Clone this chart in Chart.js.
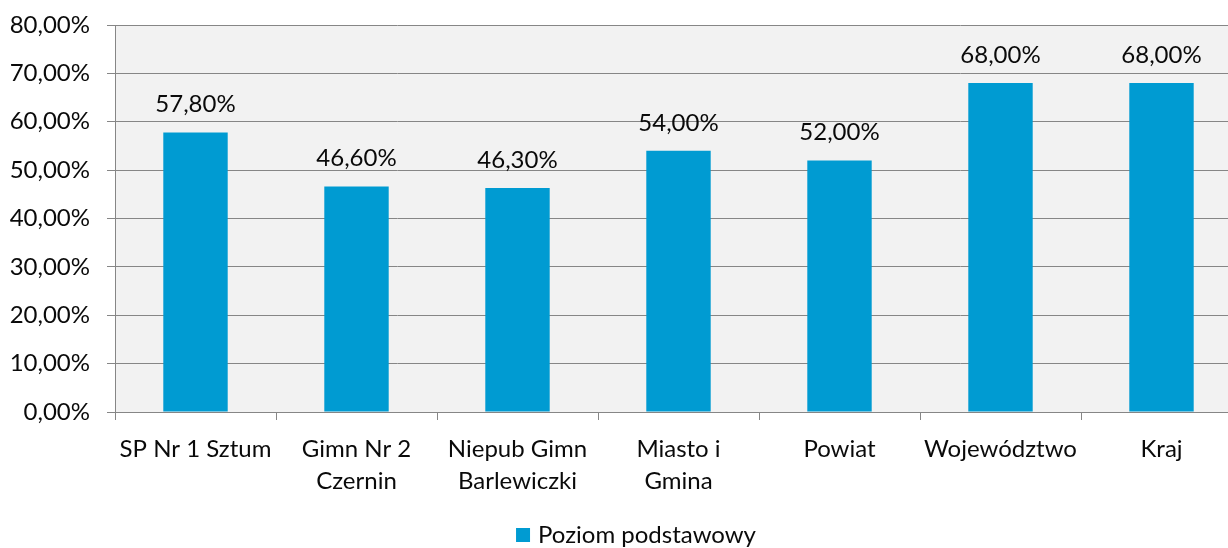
<!DOCTYPE html>
<html>
<head>
<meta charset="utf-8">
<script src="https://cdn.jsdelivr.net/npm/chart.js@4.4.0/dist/chart.umd.min.js"></script>
<style>
html,body{margin:0;padding:0;background:#fff;overflow:hidden;}
#wrap{width:1270px;height:548px;position:relative;}
</style>
</head>
<body>
<div id="wrap"><canvas id="c"></canvas></div>
<script>
const categories = [["SP Nr 1 Sztum"], ["Gimn Nr 2", "Czernin"], ["Niepub Gimn", "Barlewiczki"], ["Miasto i", "Gmina"], ["Powiat"], ["Województwo"], ["Kraj"]];
const seriesName = "Poziom podstawowy";
const values = [57.8, 46.6, 46.3, 54.0, 52.0, 68.0, 68.0];
const yTicks = [0, 10, 20, 30, 40, 50, 60, 70, 80];

const FONT = "Lato";
const FS = 24;
const TEXT = '#0a0a0a';
const fmt = v => v.toFixed(2).replace('.', ',') + '%';

const bgPlugin = {
  id: 'plotBg',
  beforeDraw(chart) {
    const {ctx, chartArea: a} = chart;
    ctx.save();
    ctx.fillStyle = '#f2f2f2';
    ctx.fillRect(a.left, a.top, a.right - a.left, a.bottom - a.top);
    ctx.restore();
  }
};
const labelPlugin = {
  id: 'valLabels',
  afterDatasetsDraw(chart) {
    const {ctx} = chart;
    const meta = chart.getDatasetMeta(0);
    ctx.save();
    ctx.font = `${FS}px ${FONT}`;
    ctx.fillStyle = TEXT;
    ctx.textAlign = 'center';
    ctx.textBaseline = 'middle';
    meta.data.forEach((el, i) => {
      ctx.fillText(fmt(values[i]), el.x, el.y - 28);
    });
    ctx.restore();
  }
};
// legend drawn from the dataset (label + colour), centred like the original
const legendPlugin = {
  id: 'bottomLegend',
  afterDraw(chart) {
    const {ctx} = chart;
    const ds = chart.data.datasets[0];
    ctx.save();
    ctx.font = `${FS}px ${FONT}`;
    const tw = ctx.measureText(ds.label).width;
    const box = 14, gap = 8;
    const total = box + gap + tw;
    const cx = 636, cy = 535;
    const x0 = cx - total / 2;
    ctx.fillStyle = ds.backgroundColor;
    ctx.fillRect(x0, cy - box / 2, box, box);
    ctx.fillStyle = TEXT;
    ctx.textAlign = 'left';
    ctx.textBaseline = 'middle';
    ctx.fillText(ds.label, x0 + box + gap, cy);
    ctx.restore();
  }
};

new Chart(document.getElementById('c'), {
  type: 'bar',
  data: {
    labels: categories,
    datasets: [{
      label: seriesName,
      data: values,
      backgroundColor: '#009bd2',
      borderWidth: 0,
      barPercentage: 0.4,
      categoryPercentage: 1.0
    }]
  },
  options: {
    responsive: true,
    maintainAspectRatio: false,
    animation: false,
    devicePixelRatio: 1,
    layout: {padding: {left: 0, right: 28, top: 25, bottom: 25}},
    plugins: {
      legend: {display: false},
      tooltip: {enabled: false}
    },
    scales: {
      x: {
        grid: {drawOnChartArea: false, drawTicks: true, tickLength: 8, offset: true, color: '#868686'},
        border: {color: '#868686', width: 1},
        ticks: {font: {family: FONT, size: FS, lineHeight: 1.35}, color: TEXT, padding: 13, maxRotation: 0, autoSkip: false},
        afterFit(s) { s.height = 111; }
      },
      y: {
        min: 0, max: 80,
        afterBuildTicks(s) { s.ticks = yTicks.map(v => ({value: v})); },
        grid: {color: '#868686', tickLength: 8, lineWidth: 1},
        border: {color: '#868686', width: 1},
        ticks: {font: {family: FONT, size: FS, lineHeight: 0.5}, color: TEXT, padding: 17, callback: v => fmt(v)},
        afterFit(s) { s.width = 115; }
      }
    }
  },
  plugins: [bgPlugin, labelPlugin, legendPlugin]
});
</script>
</body>
</html>
